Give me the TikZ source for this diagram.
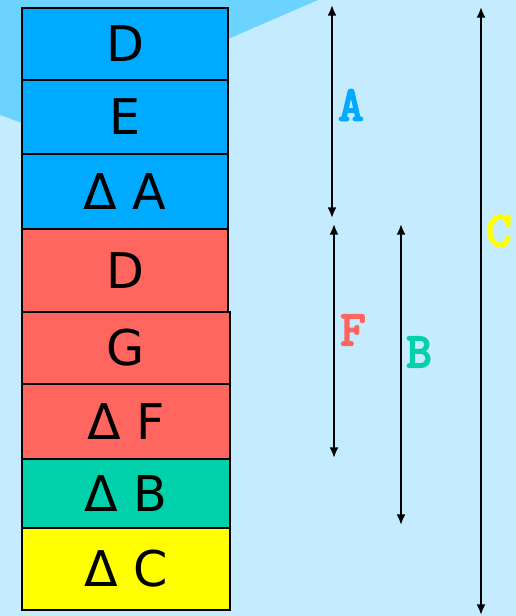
\documentclass[tikz,border=0pt]{standalone}
\usepackage{fontspec}
\setmainfont{DejaVu Sans}
\newfontfamily\labelfont{Latin Modern Mono}[FakeBold=4]
\usepackage{tikz}
\usetikzlibrary{arrows.meta}

\definecolor{fondo}{HTML}{C5ECFE}
\definecolor{banda}{HTML}{6CD3FF}
\definecolor{azul}{HTML}{00AAFF}
\definecolor{rojo}{HTML}{FF6660}
\definecolor{verde}{HTML}{00D1AA}
\definecolor{amarillo}{HTML}{FFFF00}

\tikzset{
  caja/.style={draw, line width=1.1pt, inner sep=0pt, minimum width=4.12cm,
    font=\fontsize{28}{30}\selectfont},
  etiqueta/.style={font=\labelfont\fontsize{28}{30}\selectfont},
  flecha/.style={{Latex[length=6pt,width=5pt]}-{Latex[length=6pt,width=5pt]}, line width=1.1pt}
}

\begin{document}
\begin{tikzpicture}[x=0.02cm, y=-0.02cm]
    % Fondo
    \fill[fondo] (0,0) rectangle (516,616);
    \useasboundingbox (0,0) rectangle (516,616);
    \fill[banda] (0,0) -- (318,0) -- (228,39) -- (22,123) -- (0,115) -- cycle;

    % Cajas
    \node[caja, fill=azul, minimum height=1.44cm] (d1) at (125,44) {D};
    \node[caja, fill=azul, minimum height=1.48cm] (e) at (125,117) {E};
    \node[caja, fill=azul, minimum height=1.50cm] (da) at (125,191.5) {Δ A};
    \node[caja, fill=rojo, minimum height=1.66cm] (d2) at (125,270.5) {D};
    \node[caja, fill=rojo, minimum height=1.44cm, minimum width=4.16cm] (g) at (126,348) {G};
    \node[caja, fill=rojo, minimum height=1.50cm, minimum width=4.16cm] (df) at (126,421.5) {Δ F};
    \node[caja, fill=verde, minimum height=1.38cm, minimum width=4.16cm] (db) at (126,493.5) {Δ B};
    \node[caja, fill=amarillo, minimum height=1.64cm, minimum width=4.16cm] (dc) at (126,569) {Δ C};

    % Extremos de flechas
    \coordinate (a1) at (332,5);   \coordinate (a2) at (332,218);
    \coordinate (f1) at (334,224); \coordinate (f2) at (334,458);
    \coordinate (b1) at (401,224); \coordinate (b2) at (401,525);
    \coordinate (c1) at (481,7);   \coordinate (c2) at (481,615);

    % Flechas
    \draw[flecha] (a1) -- (a2);
    \draw[flecha] (f1) -- (f2);
    \draw[flecha] (b1) -- (b2);
    \draw[flecha] (c1) -- (c2);

    % Etiquetas
    \node[etiqueta, text=azul] (la) at (351,105) {A};
    \node[etiqueta, text=rojo] (lf) at (353,330) {F};
    \node[etiqueta, text=verde] (lb) at (419,352) {B};
    \node[etiqueta, text=amarillo] (lc) at (499,231) {C};
\end{tikzpicture}
\end{document}
